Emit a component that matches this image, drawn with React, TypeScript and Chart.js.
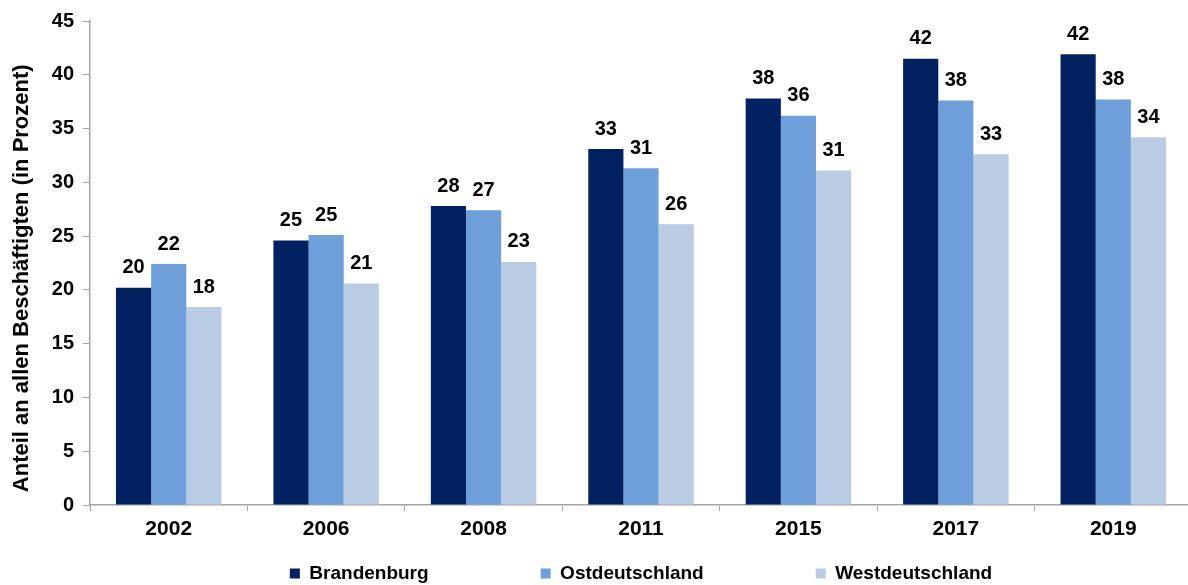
import React, { useEffect, useRef } from "react";
import { Chart, registerables } from "chart.js";

Chart.register(...registerables);

const categories = ["2002", "2006", "2008", "2011", "2015", "2017", "2019"];
const brandenburg = [20.2, 24.6, 27.8, 33.1, 37.8, 41.5, 41.9];
const ostdeutschland = [22.4, 25.1, 27.4, 31.3, 36.2, 37.6, 37.7];
const westdeutschland = [18.4, 20.6, 22.6, 26.1, 31.1, 32.6, 34.2];
const seriesNames = ["Brandenburg", "Ostdeutschland", "Westdeutschland"];
const seriesColors = ["#022161", "#6F9FDA", "#BACCE4"];
const yTitle = "Anteil an allen Beschäftigten (in Prozent)";

const FONT = "'Liberation Sans', Arial, sans-serif";
const CANVAS_W = 1192;
const CANVAS_H = 585;
const LEGEND_PAD = 112;

const valueLabels = {
  id: "valueLabels",
  afterDatasetsDraw(chart: any) {
    const ctx = chart.ctx;
    ctx.save();
    ctx.font = `bold 20px ${FONT}`;
    ctx.fillStyle = "#000";
    ctx.textAlign = "center";
    ctx.textBaseline = "middle";
    chart.data.datasets.forEach((ds: any, i: number) => {
      const meta = chart.getDatasetMeta(i);
      meta.data.forEach((bar: any, j: number) => {
        const v = ds.data[j];
        ctx.fillText(String(Math.round(v)), bar.x, bar.y - 20);
      });
    });
    ctx.restore();
  },
};

const legendTweak = {
  id: "legendTweak",
  beforeUpdate(chart: any) {
    const lg = chart.legend;
    if (lg && !lg.__patched) {
      const orig = lg.fit.bind(lg);
      lg.fit = function () {
        orig();
        this.height = 40;
      };
      lg.__patched = true;
    }
  },
  afterLayout(chart: any) {
    const lg = chart.legend;
    if (!lg) return;
    lg.left = chart.chartArea.left;
    lg.right = chart.chartArea.right;
    lg.width = lg.right - lg.left;
    lg.top = 564 - LEGEND_PAD;
    lg.bottom = CANVAS_H;
    lg.height = lg.bottom - lg.top;
  },
};

export default function App() {
  const ref = useRef<HTMLCanvasElement | null>(null);

  useEffect(() => {
    if (!ref.current) return;
    const chart = new Chart(ref.current, {
      type: "bar",
      data: {
        labels: categories,
        datasets: [
          { label: seriesNames[0], data: brandenburg, backgroundColor: seriesColors[0] },
          { label: seriesNames[1], data: ostdeutschland, backgroundColor: seriesColors[1] },
          { label: seriesNames[2], data: westdeutschland, backgroundColor: seriesColors[2] },
        ],
      },
      options: {
        animation: false,
        responsive: false,
        maintainAspectRatio: false,
        devicePixelRatio: 1,
        layout: { padding: { top: 18, right: 0, bottom: 0, left: 0 } },
        datasets: {
          bar: { categoryPercentage: 0.67, barPercentage: 1.0, borderWidth: 0 },
        },
        plugins: {
          legend: {
            position: "bottom",
            labels: {
              boxWidth: 10,
              boxHeight: 10,
              padding: LEGEND_PAD,
              color: "#000",
              font: { family: FONT, size: 19, weight: "bold" },
            },
          },
          tooltip: { enabled: false },
        },
        scales: {
          x: {
            grid: {
              display: true,
              drawOnChartArea: false,
              drawTicks: true,
              tickLength: 6,
              color: "#A6A6A6",
              offset: true,
            },
            border: { display: true, color: "#A6A6A6", width: 1.5 },
            ticks: {
              color: "#000",
              padding: 6,
              font: { family: FONT, size: 21, weight: "bold" },
            },
            afterFit(scale: any) {
              scale.height = 40;
            },
          },
          y: {
            min: 0,
            max: 45,
            ticks: {
              stepSize: 5,
              color: "#000",
              padding: 9,
              font: { family: FONT, size: 20, weight: "bold" },
            },
            grid: {
              display: true,
              drawOnChartArea: false,
              drawTicks: true,
              tickLength: 7,
              color: "#A6A6A6",
            },
            border: { display: true, color: "#A6A6A6", width: 1.5 },
            title: {
              display: true,
              text: yTitle + "     ",
              color: "#000",
              padding: { top: 9, bottom: 0 },
              font: { family: FONT, size: 22, weight: "bold" },
            },
            afterFit(scale: any) {
              scale.width = 90;
            },
          },
        },
      },
      plugins: [valueLabels, legendTweak],
    } as any);
    return () => chart.destroy();
  }, []);

  return (
    <div
      style={{
        position: "fixed",
        left: 0,
        top: 0,
        width: 1188,
        height: 585,
        overflow: "hidden",
        background: "#fff",
      }}
    >
      <canvas ref={ref} width={CANVAS_W} height={CANVAS_H} style={{ display: "block" }} />
    </div>
  );
}
